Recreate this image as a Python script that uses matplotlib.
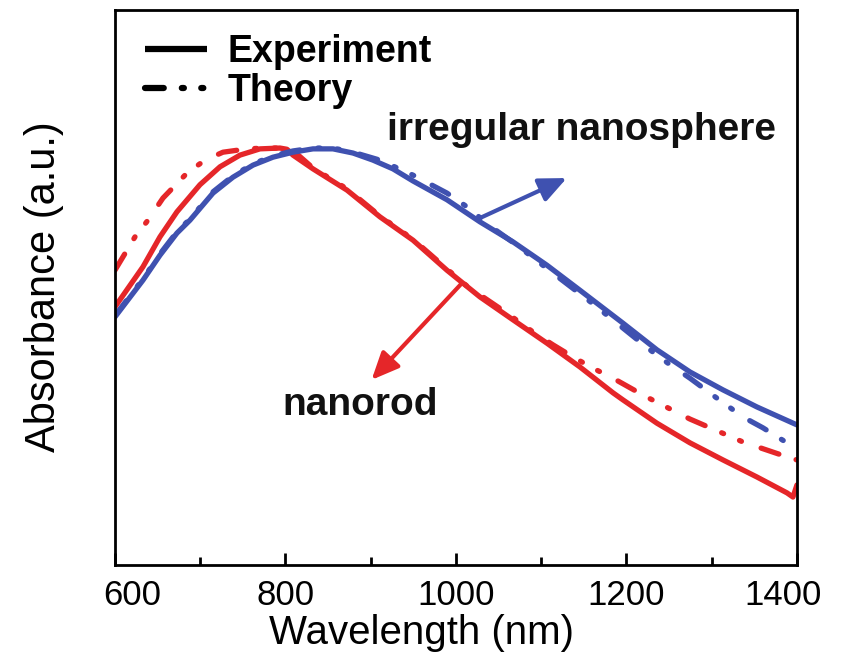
import matplotlib
matplotlib.use("Agg")
import matplotlib.pyplot as plt
import matplotlib.transforms as mtransforms
from matplotlib.lines import Line2D

plt.rcParams["font.family"] = ["Liberation Sans", "DejaVu Sans"]
plt.rcParams["lines.scale_dashes"] = False

# nanorod, experiment
wl_rod_exp = [600, 632.8, 652.8, 672.7, 699.7, 723.2, 746.6, 770.1, 793.5, 801.8, 808.8, 832.3, 872.2,
              910.8, 949.6, 989.4, 1028.1, 1066.9, 1106.7, 1145.4, 1184.2, 1195.9, 1235.8, 1274.5,
              1313.2, 1353.1, 1388.3, 1395.3, 1400]
abs_rod_exp = [0.619, 0.715, 0.787, 0.847, 0.912, 0.955, 0.983, 0.998, 1.000, 0.997, 0.983, 0.950, 0.899,
               0.835, 0.779, 0.707, 0.643, 0.588, 0.532, 0.475, 0.413, 0.396, 0.340, 0.293,
               0.252, 0.211, 0.173, 0.163, 0.192]

# nanorod, theory
wl_rod_th = [600, 623.5, 638.7, 656.3, 684.5, 705.6, 726.7, 754.8, 776.0, 799.4, 811.1, 832.3, 872.2,
             910.8, 949.6, 989.4, 1012.9, 1059.8, 1090.3, 1113.8, 1137.2, 1160.7, 1184.2, 1221.7,
             1274.5, 1336.7, 1391.8, 1400]
abs_rod_th = [0.707, 0.787, 0.827, 0.880, 0.940, 0.971, 0.990, 0.998, 1.000, 1.000, 0.990, 0.952, 0.902,
              0.837, 0.781, 0.710, 0.669, 0.604, 0.559, 0.528, 0.499, 0.472, 0.448, 0.405,
              0.350, 0.295, 0.257, 0.252]

# irregular nanosphere, experiment
wl_sph_exp = [600, 632.8, 652.8, 672.7, 688.0, 715.0, 738.4, 761.9, 785.3, 808.8, 832.3, 855.7, 879.2,
              902.6, 926.1, 949.6, 989.4, 1028.1, 1066.9, 1106.7, 1145.4, 1195.9, 1235.8, 1274.5,
              1313.2, 1353.1, 1400]
abs_sph_exp = [0.595, 0.683, 0.743, 0.796, 0.827, 0.892, 0.930, 0.959, 0.978, 0.990, 0.998, 0.998, 0.988,
               0.971, 0.950, 0.921, 0.876, 0.823, 0.775, 0.719, 0.659, 0.580, 0.516, 0.463,
               0.420, 0.379, 0.336]

# irregular nanosphere, theory
wl_sph_th = [600, 632.8, 652.8, 672.7, 688.0, 715.0, 738.4, 761.9, 785.3, 808.8, 832.3, 855.7, 879.2,
             910.8, 949.6, 989.4, 1012.9, 1039.9, 1071.5, 1113.8, 1157.2, 1227.6, 1248.7, 1274.5,
             1306.2, 1336.7, 1360.1, 1388.3, 1400]
abs_sph_th = [0.598, 0.686, 0.746, 0.799, 0.830, 0.895, 0.933, 0.962, 0.981, 0.993, 1.000, 1.000, 0.990,
              0.971, 0.935, 0.892, 0.859, 0.813, 0.767, 0.700, 0.632, 0.516, 0.484, 0.448,
              0.400, 0.355, 0.329, 0.293, 0.276]

major_ticks = [600, 800, 1000, 1200, 1400]
minor_ticks = [700, 900, 1100, 1300]

# arrows: (tail, tip) in data units
arrow_sph = ((1028, 0.832), (1130, 0.928))
arrow_rod = ((1007, 0.676), (901, 0.444))

RED = "#E52629"
BLUE = "#3F51B0"
DASH = (0, (13.5, 13, 1.5, 12.5, 1.5, 15))

fig = plt.figure(figsize=(8.51, 6.63), dpi=100)
ax = fig.add_axes([0.1351, 0.1478, 0.8014, 0.8371])

style = dict(lw=3.8, solid_capstyle="round", solid_joinstyle="round",
             dash_capstyle="round", dash_joinstyle="round")
ax.plot(wl_rod_th, abs_rod_th, color=RED, ls=DASH, **style)
ax.plot(wl_rod_exp, abs_rod_exp, color=RED, **style)
ax.plot(wl_sph_exp, abs_sph_exp, color=BLUE, **style)
ax.plot(wl_sph_th, abs_sph_th, color=BLUE, ls=DASH, **style)

for (tail, tip), c in [(arrow_sph, BLUE), (arrow_rod, RED)]:
    ax.annotate("", xy=tip, xytext=tail,
                arrowprops=dict(arrowstyle="-|>,head_length=0.45,head_width=0.2", color=c,
                                lw=3, mutation_scale=37, shrinkA=0, shrinkB=0))

ax.text(919, 1.019, "irregular nanosphere", fontsize=28, fontweight="bold", color="#111111",
        ha="left", va="baseline")
ax.text(796, 0.360, "nanorod", fontsize=28, fontweight="bold", color="#111111",
        ha="left", va="baseline")

handles = [Line2D([], [], color="k", lw=4.5, solid_capstyle="butt"),
           Line2D([], [], color="k", lw=4.5, ls=DASH, dash_capstyle="round")]
ax.legend(handles, ["Experiment", "Theory"], loc="upper left", bbox_to_anchor=(0.044, 0.957),
          frameon=False, prop={"weight": "bold", "size": 27}, handlelength=1.65,
          handletextpad=0.56, labelspacing=0.08, borderpad=0, borderaxespad=0)

ax.set_xlim(600, 1400)
ax.set_ylim(0, 1.331)
ax.set_yticks([])
ax.set_xticks(major_ticks)
ax.set_xticks(minor_ticks, minor=True)
ax.tick_params(axis="x", which="major", direction="in", length=8.5, width=2, labelsize=25, pad=9.8)
ax.tick_params(axis="x", which="minor", direction="in", length=5.5, width=2)
for sp in ax.spines.values():
    sp.set_linewidth(2)

ax.set_xlabel("Wavelength (nm)", fontsize=29)
ax.xaxis.set_label_coords(0.45, -0.089)
ax.set_ylabel("Absorbance (a.u.)", fontsize=30)
ax.yaxis.set_label_coords(-0.075, 0.501)

# end labels sit inward in the original
ticks = ax.xaxis.get_major_ticks()
for t, dx in [(ticks[0], 12.2), (ticks[-1], -10.0)]:
    t.label1.set_transform(t.label1.get_transform() +
                           mtransforms.ScaledTranslation(dx / 72, 0, fig.dpi_scale_trans))

fig.savefig("out.png", dpi=100)
